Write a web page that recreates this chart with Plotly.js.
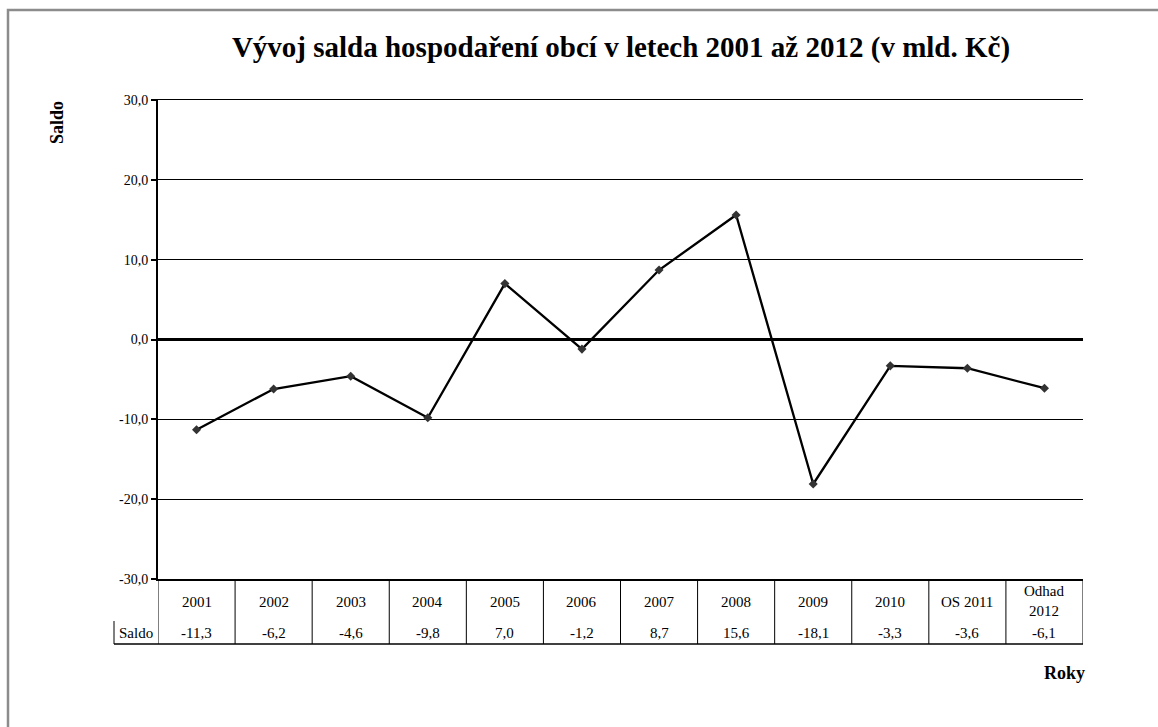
<!DOCTYPE html>
<html><head><meta charset="utf-8">
<script src="https://cdn.plot.ly/plotly-3.0.1.min.js"></script>
<style>html,body{margin:0;padding:0;background:#fff}#chart{width:1158px;height:727px}</style>
</head><body><div id="chart"></div>
<script>
const categories = ["2001","2002","2003","2004","2005","2006","2007","2008","2009","2010","OS 2011","Odhad<br>2012"];
const saldo = [-11.3,-6.2,-4.6,-9.8,7.0,-1.2,8.7,15.6,-18.1,-3.3,-3.6,-6.1];
const yTicks = [-30,-20,-10,0,10,20,30];
const rowLabel = "Saldo";

const W=1158,H=727,L=158,R=1083,T=100,B=579;
const px = x => (x-L)/(R-L);
const py = y => (B-y)/(B-T);
const fmt = v => v.toFixed(1).replace('.',',');
const serif = 'Liberation Serif';

const idx = categories.map((c,i)=>i);
const shapes = [];
const annotations = [];
for(let i=0;i<=categories.length;i++){
  shapes.push({type:'line',xref:'x',yref:'paper',x0:i-0.5,x1:i-0.5,y0:0,y1:py(644),line:{color:'#000',width:1}});
}
shapes.push({type:'line',xref:'paper',yref:'paper',x0:px(114),x1:1,y0:py(644),y1:py(644),line:{color:'#000',width:1.5}});
shapes.push({type:'line',xref:'paper',yref:'paper',x0:px(114),x1:px(114),y0:py(621),y1:py(644),line:{color:'#000',width:1}});
shapes.push({type:'rect',xref:'paper',yref:'paper',x0:px(8),x1:px(1175),y0:py(740),y1:py(10),line:{color:'#8c8c8c',width:2.5}});

const tf = {family:serif,size:15,color:'#000'};
categories.forEach((c,i)=>{
  annotations.push({xref:'x',yref:'paper',x:i,y:py(c.includes('<br>')?601:602),text:c,showarrow:false,font:tf,yanchor:'middle',xanchor:'center'});
  annotations.push({xref:'x',yref:'paper',x:i,y:py(633),text:fmt(saldo[i]),showarrow:false,font:tf,yanchor:'middle',xanchor:'center'});
});
annotations.push({xref:'paper',yref:'paper',x:px(136),y:py(633),text:rowLabel,showarrow:false,font:tf,yanchor:'middle',xanchor:'center'});
annotations.push({xref:'paper',yref:'paper',x:px(57),y:py(123),text:'<b>Saldo</b>',textangle:-90,showarrow:false,font:{family:serif,size:18,color:'#000'},yanchor:'middle',xanchor:'center'});
annotations.push({xref:'paper',yref:'paper',x:px(1064),y:py(673),text:'<b>Roky</b>',showarrow:false,font:{family:serif,size:18,color:'#000'},yanchor:'middle',xanchor:'center'});

const data=[{x:idx,y:saldo,type:'scatter',mode:'lines+markers',line:{color:'#000',width:2.3},marker:{symbol:'diamond',size:7,color:'#333'},hoverinfo:'skip'}];

const layout={
  width:W,height:H,margin:{l:L,r:W-R,t:T,b:H-B},
  paper_bgcolor:'#fff',plot_bgcolor:'#fff',showlegend:false,
  title:{text:'<b>Vývoj salda hospodaření obcí v letech 2001 až 2012 (v mld. Kč)</b>',x:621/W,xanchor:'center',y:1-47/H,yanchor:'middle',font:{family:serif,size:29,color:'#000'}},
  xaxis:{range:[-0.5,categories.length-0.5],showticklabels:false,showgrid:false,zeroline:false,ticks:'',showline:true,linecolor:'#000',linewidth:1.5,mirror:true,fixedrange:true},
  yaxis:{range:[-30,30],tickvals:yTicks,ticktext:yTicks.map(fmt),ticks:'outside',ticklen:5,tickwidth:2,tickcolor:'#000',
    showline:true,linecolor:'#000',linewidth:2,showgrid:true,gridcolor:'#000',gridwidth:1,zeroline:true,zerolinecolor:'#000',zerolinewidth:3,
    tickfont:{family:serif,size:14,color:'#000'},fixedrange:true},
  shapes:shapes,annotations:annotations
};
Plotly.newPlot('chart',data,layout,{displayModeBar:false,staticPlot:true});
</script></body></html>
